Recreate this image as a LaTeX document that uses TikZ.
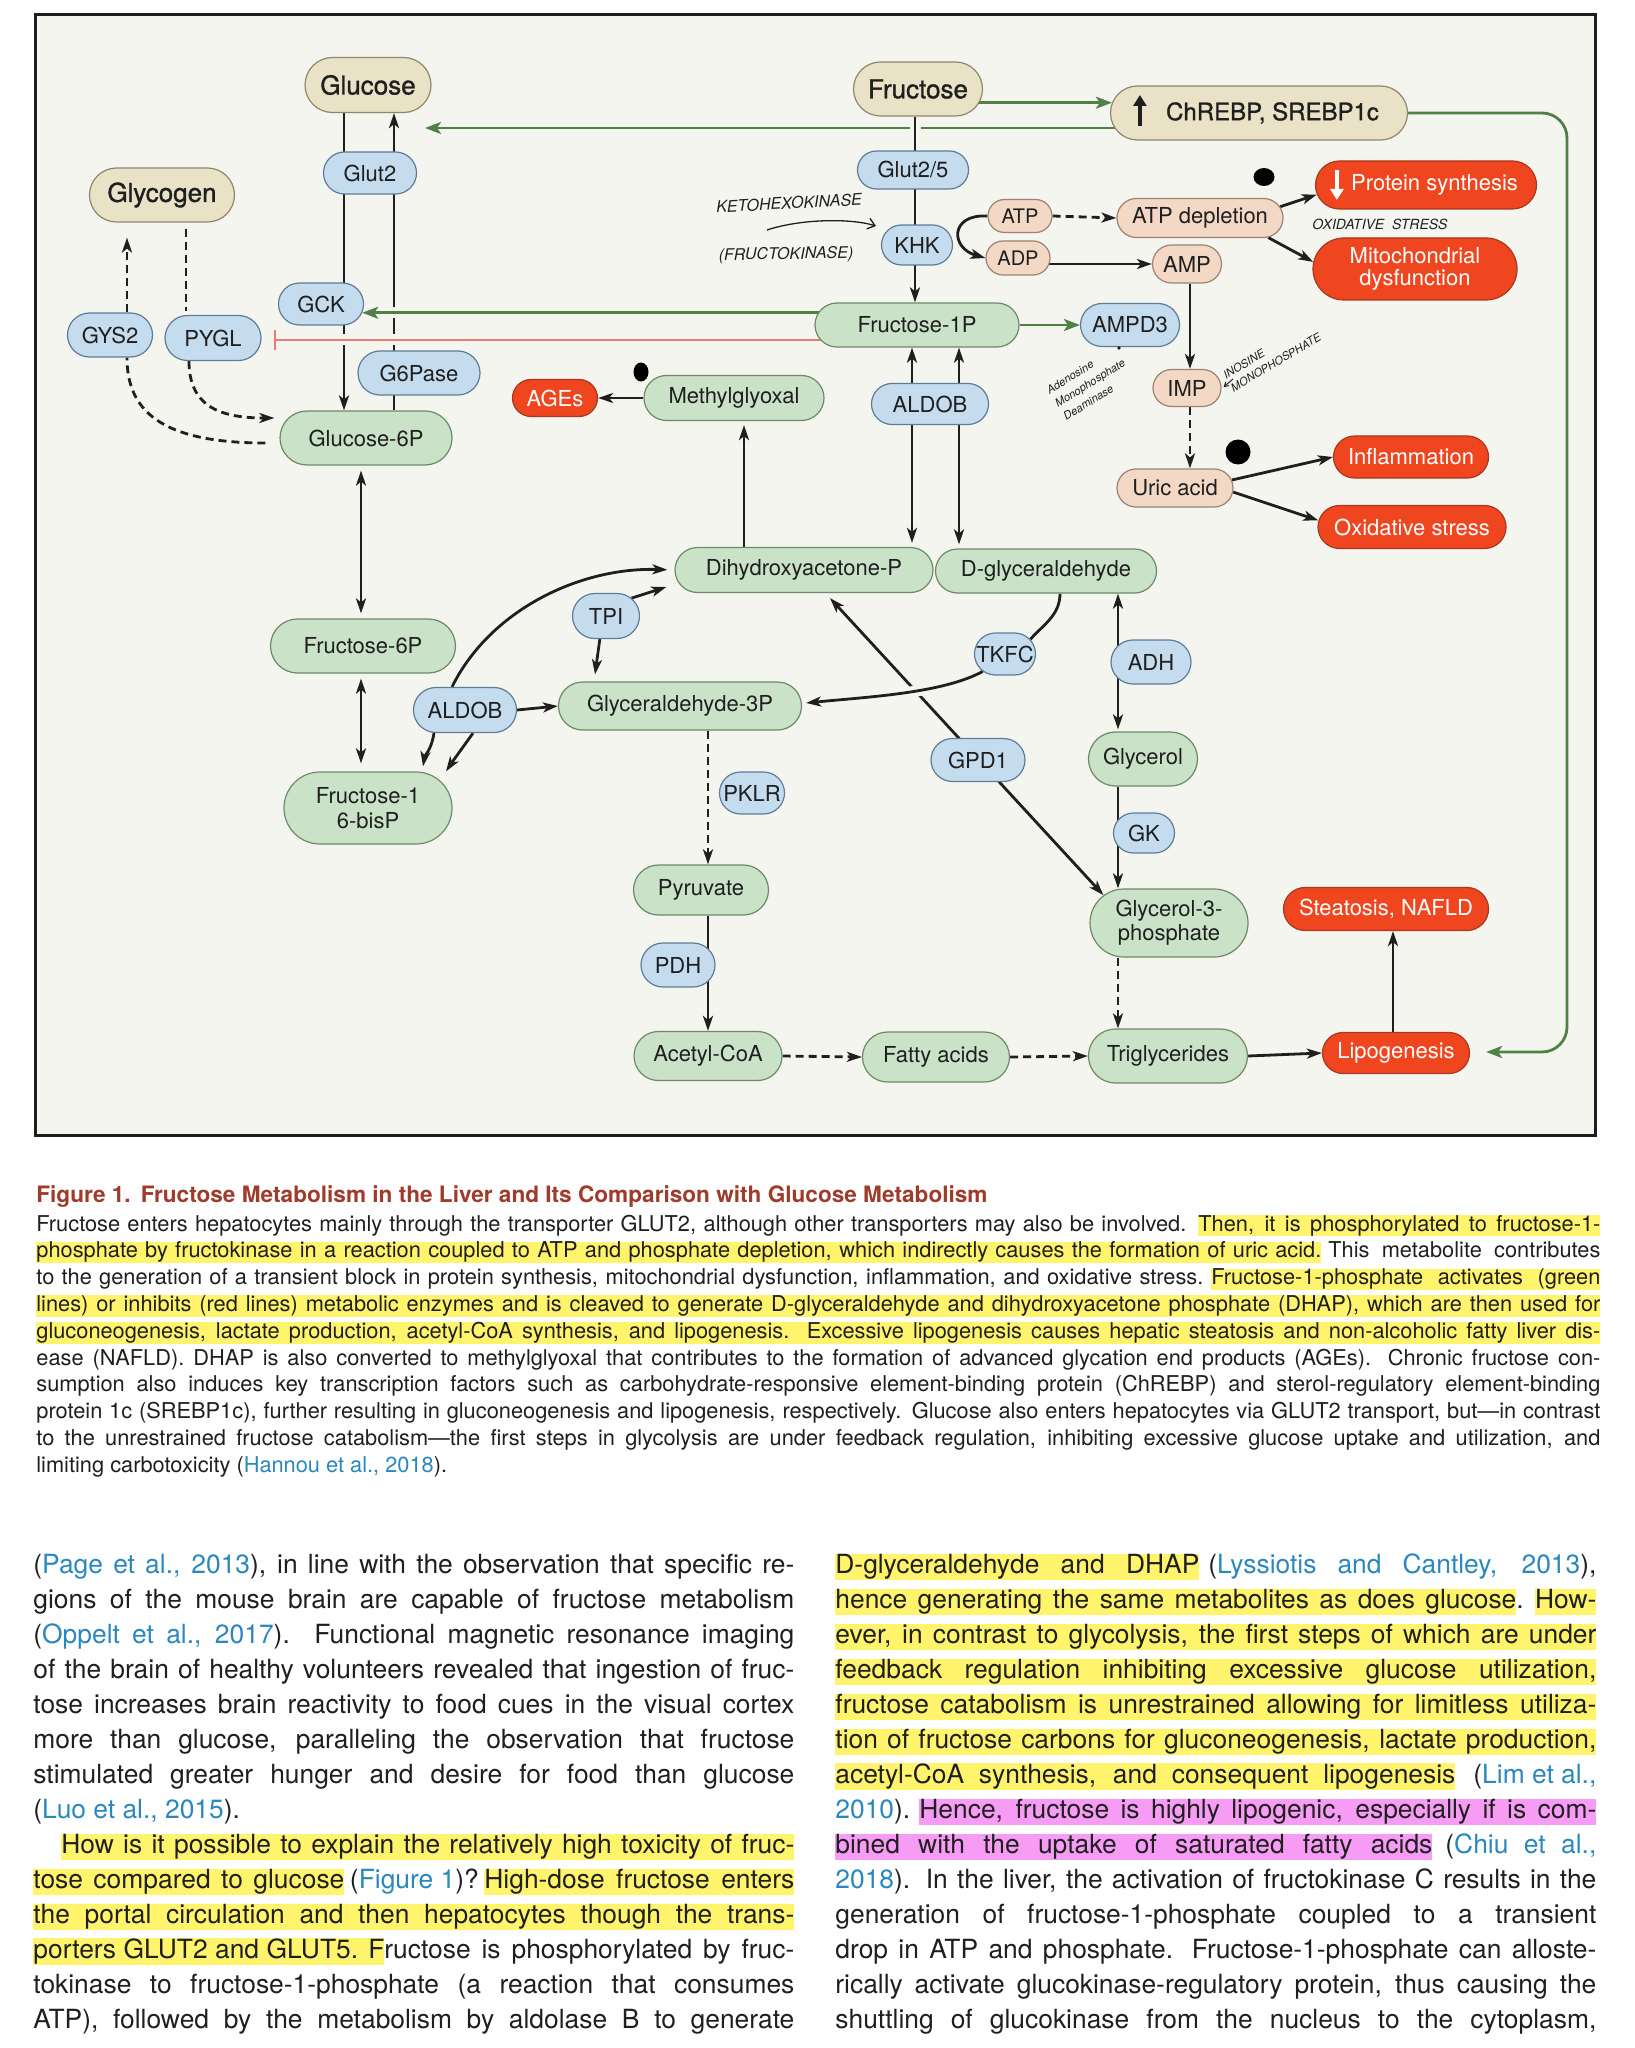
\documentclass[tikz,border=0pt]{standalone}
\usepackage{fontspec}
\setmainfont{TeX Gyre Heros}
\newfontfamily\medfont[FakeBold=1.2]{TeX Gyre Heros}
\usetikzlibrary{shapes.misc,arrows.meta,calc}
\pgfdeclarelayer{frm}
\pgfdeclarelayer{edg}
\pgfsetlayers{frm,edg,main}
\newlength\px
\setlength\px{0.5pt}
\definecolor{framebg}{HTML}{F5F5F0}
\definecolor{framedk}{HTML}{1E1E1E}
\definecolor{ink}{HTML}{1F1F1F}
\definecolor{tanf}{HTML}{E9E2C7}
\definecolor{tand}{HTML}{8E876A}
\definecolor{bluef}{HTML}{C5DCEF}
\definecolor{blued}{HTML}{5E7C98}
\definecolor{greenf}{HTML}{C9E2C8}
\definecolor{greend}{HTML}{6C8A68}
\definecolor{peachf}{HTML}{F3D8C5}
\definecolor{peachd}{HTML}{9C8270}
\definecolor{redf}{HTML}{F0461F}
\definecolor{redd}{HTML}{A8381E}
\definecolor{grn}{HTML}{4F8046}
\definecolor{inhred}{HTML}{EC7B70}
\definecolor{capred}{HTML}{9E3B2A}
\definecolor{citeblue}{HTML}{2A88BE}
\definecolor{hly}{HTML}{FFF46C}
\definecolor{hlm}{HTML}{F79CF5}
\newcommand\fsz[2]{\fontsize{#1}{#2}\selectfont}
\newcommand\hlstrut{\rule[-0.25em]{0pt}{0.97em}}
\newcommand\hly[1]{{\setlength\fboxsep{0pt}\colorbox{hly}{\hlstrut#1}}}
\newcommand\hlm[1]{{\setlength\fboxsep{0pt}\colorbox{hlm}{\hlstrut#1}}}
\newcommand\jl[2]{\makebox[#1\px][s]{#2}}
\newcommand\hlyw[2]{\hly{\jl{#1}{#2}}}
\newcommand\hlmw[2]{\hlm{\jl{#1}{#2}}}
\newcommand\cit[1]{\textcolor{citeblue}{#1}}
\begin{document}
\begin{tikzpicture}[x=0.5pt,y=-0.5pt,
  >={Stealth[length=7.5pt,width=5pt,inset=2pt]},
  nbase/.style={rounded rectangle, draw, line width=1.2\px, inner sep=0pt, text=ink, font=\fsz{11pt}{12pt}},
  tnode/.style={nbase, fill=tanf, draw=tand, font=\medfont\fsz{13pt}{15pt}},
  enode/.style={nbase, fill=bluef, draw=blued},
  mnode/.style={nbase, fill=greenf, draw=greend},
  pnode/.style={nbase, fill=peachf, draw=peachd},
  rnode/.style={nbase, fill=redf, draw=redd, text=white},
  sz/.style 2 args={minimum width=#1\px, minimum height=#2\px},
  ln/.style={line width=2.8\px, draw=ink},
  arr/.style={ln, ->},
  darr/.style={ln, <->},
  dsh/.style={dash pattern=on 8\px off 5\px},
  gln/.style={line width=2.8\px, draw=grn},
  garr/.style={gln, -{Stealth[length=8pt,width=6pt,inset=2pt]}},
  inh/.style={line width=2.8\px, draw=inhred, -{Bar[width=10pt]}},
  halo/.style={preaction={draw=framebg, line width=11\px, -, solid}},
  hand/.style={inner sep=0pt, text=ink, font=\itshape\fsz{8pt}{9pt}},
  txtl/.style={anchor=base west, inner sep=0pt, text=ink},
  capl/.style={txtl, font=\fsz{10.9pt}{13pt}},
  bodl/.style={txtl, font=\fsz{13.2pt}{16pt}}
]
\useasboundingbox (0,0) rectangle (1634,2048);
\begin{pgfonlayer}{frm}
\fill[white] (0,0) rectangle (1634,2048);
\draw[line width=3\px, draw=framedk, fill=framebg] (35,15) rectangle (1595,1135);
\end{pgfonlayer}

% ---------- tan nodes
\node[tnode,sz={126}{55}] (glucose) at (368,85) {Glucose};
\node[tnode,sz={129}{54}] (fructose) at (918,89) {Fructose};
\node[tnode,sz={145}{54}] (glycogen) at (162,195) {Glycogen};
\node[tnode,sz={297}{54},font=\medfont\fsz{12pt}{13pt}] (chrebp) at (1259,113) {\hspace*{27\px}ChREBP, SREBP1c};
% ---------- enzymes
\node[enode,sz={93}{42}] (glut2) at (370,173) {Glut2};
\node[enode,sz={85}{42}] (gck) at (321,304) {GCK};
\node[enode,sz={85}{44}] (gys2) at (110,335) {GYS2};
\node[enode,sz={96}{45}] (pygl) at (213,338) {PYGL};
\node[enode,sz={122}{44}] (g6pase) at (419,373) {G6Pase};
\node[enode,sz={111}{38}] (glut25) at (913,170) {Glut2/5};
\node[enode,sz={71}{40}] (khk) at (917,245) {KHK};
\node[enode,sz={99}{43}] (ampd3) at (1130,325) {AMPD3};
\node[enode,sz={117}{41}] (aldobA) at (930,404) {ALDOB};
\node[enode,sz={103}{45}] (aldobB) at (465,710) {ALDOB};
\node[enode,sz={67}{45}] (tpi) at (606,616) {TPI};
\node[enode,sz={61}{42}] (tkfc) at (1005,654) {TKFC};
\node[enode,sz={80}{44}] (adh) at (1151,662) {ADH};
\node[enode,sz={61}{40}] (gk) at (1144,833) {GK};
\node[enode,sz={94}{43}] (gpd1) at (978,760) {GPD1};
\node[enode,sz={65}{42}] (pklr) at (752,793) {PKLR};
\node[enode,sz={74}{44}] (pdh) at (678,965) {PDH};
% ---------- metabolites
\node[mnode,sz={172}{54}] (g6p) at (366,438) {Glucose-6P};
\node[mnode,sz={204}{44}] (fru1p) at (917,325) {Fructose-1P};
\node[mnode,sz={180}{45}] (methyl) at (734,398) {Methylglyoxal};
\node[mnode,sz={258}{45}] (dhap) at (804,570) {Dihydroxyacetone-P};
\node[mnode,sz={221}{44}] (dglyc) at (1046,571) {D-glyceraldehyde};
\node[mnode,sz={185}{54}] (f6p) at (363,646) {Fructose-6P};
\node[mnode,sz={168}{72},align=center,font=\fsz{11pt}{12.5pt}] (f16bp) at (368,808) {Fructose-1\\6-bisP};
\node[mnode,sz={243}{48}] (g3p) at (680,706) {Glyceraldehyde-3P};
\node[mnode,sz={109}{54}] (glycerol) at (1143,759) {Glycerol};
\node[mnode,sz={158}{68},align=center,font=\fsz{11pt}{12pt}] (gly3p) at (1169,923) {Glycerol-3-\\phosphate};
\node[mnode,sz={135}{50}] (pyruvate) at (701,890) {Pyruvate};
\node[mnode,sz={148}{49}] (acetyl) at (708,1056) {Acetyl-CoA};
\node[mnode,sz={147}{50}] (fatty) at (936,1057) {Fatty acids};
\node[mnode,sz={159}{54}] (trig) at (1168,1056) {Triglycerides};
% ---------- energy nodes
\node[pnode,sz={64}{33},font=\fsz{10pt}{11pt}] (atp) at (1020,216) {ATP};
\node[pnode,sz={64}{34},font=\fsz{10pt}{11pt}] (adp) at (1018,258) {ADP};
\node[pnode,sz={166}{39}] (atpdep) at (1200,218) {ATP depletion};
\node[pnode,sz={69}{38}] (amp) at (1187,264) {AMP};
\node[pnode,sz={68}{37}] (imp) at (1187,388) {IMP};
\node[pnode,sz={116}{38}] (uric) at (1175,488) {Uric acid};
% ---------- outcomes
\node[rnode,sz={85}{37}] (ages) at (555,398) {AGEs};
\node[rnode,sz={221}{48}] (protein) at (1426,185) {\hspace*{17\px}Protein synthesis};
\node[rnode,sz={204}{62},align=center,font=\fsz{11pt}{10.8pt}] (mito) at (1415,269) {Mitochondrial\\dysfunction};
\node[rnode,sz={155}{42}] (inflam) at (1411,457) {Inflammation};
\node[rnode,sz={188}{43}] (oxstress) at (1412,527) {Oxidative stress};
\node[rnode,sz={205}{43}] (steat) at (1386,909) {Steatosis, NAFLD};
\node[rnode,sz={147}{41}] (lipo) at (1396,1053) {Lipogenesis};

% ---------- helper coordinates
\coordinate (cL) at (344,0);
\coordinate (cR) at (394,0);
\coordinate (cF) at (915,0);
\coordinate (cA1) at (912,0);
\coordinate (cA2) at (959,0);
\coordinate (cM) at (744,0);
\coordinate (cG) at (361,0);
\coordinate (cD) at (1118,0);
\coordinate (cS) at (1393,0);
\coordinate (cP) at (708,0);
\coordinate (cY) at (127,0);
\coordinate (cPy) at (186,0);
\coordinate (cU) at (1190,0);
\coordinate (glutip) at (425,128);
\coordinate (gcorner) at (1567,1052);
\coordinate (gckin) at (gck.-12);
\coordinate (inhpt) at ($(pygl.east)+(12,2)$);
\coordinate (chin) at (chrebp.176);

\begin{pgfonlayer}{edg}
% lines that get crossed
\draw[garr] (glutip -| chrebp.center) -- (glutip);
\draw[arr] (glucose.south -| cL) -- (g6p.north -| cL);
\draw[arr] (g6p.north -| cR) -- (glucose.south -| cR);
\draw[darr] ($(dhap.south)+(26,5)$) -- (gly3p.157);
% crossing lines with gaps
\draw[arr, halo] (fructose.south -| cF) -- (fru1p.north -| cF);
\draw[garr, halo] (fru1p.center |- gckin) -- (gckin);
\draw[inh, halo] (fru1p.center |- inhpt) -- (inhpt);
\draw[ln] ($(dglyc.south)+(14,0)$) .. controls +(0,22) and +(12,-14) .. (tkfc.30);
\draw[arr, halo] (tkfc.218) .. controls +(-40,22) and +(60,-6) .. ($(g3p.east)+(4,-3)$);
% green regulation
\draw[garr] (fructose.center |- chin) -- (chin);
\draw[garr, rounded corners=25\px] (chrebp.east) -| (gcorner) -- ($(lipo.east)+(16,-1)$);
\draw[garr] (fru1p.east) -- (ampd3.west);
% energy
\draw[arr] (atp.west) .. controls +(-38,-2) and +(-35,-10) .. (adp.west);
\draw[arr, dsh] (atp.east) -- (atpdep.west);
\draw[arr] (adp.center |- amp.west) -- (amp.west);
\draw[arr] (atpdep.8) -- (protein.185);
\draw[arr] (atpdep.-16) -- (mito.176);
\draw[arr] (amp.south -| cU) -- (imp.north -| cU);
\draw[arr, dsh] (imp.south -| cU) -- (uric.north -| cU);
\draw[arr] (uric.8) -- (inflam.west);
\draw[arr] (uric.-4) -- (oxstress.176);
% fructose-1P cleavage
\draw[darr, shorten >=4\px] (fru1p.south -| cA1) -- (dhap.north -| cA1);
\draw[darr, shorten >=4\px] (fru1p.south -| cA2) -- (dglyc.north -| cA2);
\draw[arr, shorten >=4\px] (dhap.north -| cM) -- (methyl.south -| cM);
\draw[arr] (methyl.west) -- (ages.east);
% glycolysis
\draw[darr, shorten <=5\px, shorten >=5\px] (g6p.south -| cG) -- (f6p.north -| cG);
\draw[darr, shorten <=5\px, shorten >=8\px] (f6p.south -| cG) -- (f16bp.north -| cG);
\draw[arr] (aldobB.east) -- (g3p.west);
\draw[arr, shorten >=7\px] ($(aldobB.north)+(-13,0)$) .. controls (490,610) and (580,567) .. (dhap.west);
\draw[arr] ($(aldobB.south)+(-31,0)$) .. controls +(-3,18) and +(2,-12) .. ($(f16bp.north)+(55,-5)$);
\draw[arr] ($(aldobB.south)+(8,0)$) .. controls +(-10,14) and +(8,-12) .. ($(f16bp.north)+(78,0)$);
\draw[arr] (tpi.35) -- ($(dhap.west)+(-8,17)$);
\draw[arr] (tpi.255) -- ($(g3p.north)+(-85,-7)$);
% glycerol branch
\draw[darr, shorten >=2\px] (dglyc.south -| cD) -- (glycerol.north -| cD);
\draw[arr] (glycerol.south -| cD) -- (gly3p.north -| cD);
\draw[arr, dsh] (gly3p.south -| cD) -- (trig.north -| cD);
\draw[arr] (trig.east) -- (lipo.west);
\draw[arr] (lipo.north -| cS) -- (steat.south -| cS);
\draw[arr, dsh] (acetyl.east) -- (fatty.west);
\draw[arr, dsh] (fatty.east) -- (trig.west);
\draw[arr, dsh] (g3p.south -| cP) -- (pyruvate.north -| cP);
\draw[arr] (pyruvate.south -| cP) -- (acetyl.north -| cP);
% glycogen
\draw[arr, dsh, shorten >=15\px] (gys2.north -| cY) -- (glycogen.south -| cY);
\draw[ln, dsh, shorten <=6\px, shorten >=4\px] (glycogen.south -| cPy) -- (pygl.north -| cPy);
\draw[arr, dsh] ($(pygl.south)+(-24,0)$) .. controls +(0,45) and +(-55,0) .. ($(g6p.west)+(-5,-20)$);
\draw[ln, dsh] ($(g6p.west)+(-14,5)$) .. controls (160,443) and (127,410) .. (gys2.south -| cY);
\end{pgfonlayer}

% ---------- arrows inside nodes
\draw[line width=3.5\px, draw=ink, -{Triangle[length=5.5pt,width=6.5pt]}] ($(chrebp.west)+(30,13)$) -- ++(0,-31);
\draw[line width=3.5\px, draw=white, -{Triangle[length=5.5pt,width=6.5pt]}] ($(protein.west)+(22,-15)$) -- ++(0,30);

% ---------- blobs
\fill[black] (641,372) ellipse [x radius=7.5\px, y radius=9.5\px];
\fill[black] (1264,177) ellipse [x radius=10.5\px, y radius=9\px];
\fill[black] (1238,452) ellipse [x radius=12.5\px, y radius=12.5\px];
\fill[ink] (1119,348) circle [radius=1.8\px];

% ---------- handwriting
\node[hand, rotate=3] (kh1) at (789,203) {KETOHEXOKINASE};
\node[hand, rotate=1] (kh2) at (786,255) {(FRUCTOKINASE)};
\coordinate (ka1) at (767,230);
\coordinate (ka2) at (876,226);
\draw[line width=1.3\px, draw=ink, -{Straight Barb[length=3.5pt,width=5.5pt]}] (ka1) .. controls (800,219) and (850,218) .. (ka2);
\node[hand, font=\itshape\fsz{7pt}{8pt}] (oxh) at (1380,224) {OXIDATIVE\ \ STRESS};
\node[hand, font=\itshape\fsz{5.6pt}{7.4pt}, rotate=31, align=left] (ino) at (1272,356) {INOSINE\\MONOPHOSPHATE};
\coordinate (inoA) at (1233,379);
\draw[line width=1\px, draw=ink, -{Straight Barb[length=2pt,width=2.5pt]}] (inoA) -- ($(imp.east)+(2,-1)$);
\node[hand, font=\itshape\fsz{5.6pt}{7.8pt}, rotate=32, align=left] (adn) at (1090,383) {Adenosine\\Monophosphate\\Deaminase};

% ---------- caption
\node[txtl, font=\bfseries\fsz{11.3pt}{13pt}, text=capred] (ctitle) at (36,1202) {Figure 1.\hspace{0.45em}Fructose Metabolism in the Liver and Its Comparison with Glucose Metabolism};
\node[capl] (c1) at (36,1231) {\jl{1564}{\jl{1150}{Fructose enters hepatocytes mainly through the transporter GLUT2, although other transporters may also be involved.}\hfill\hlyw{402}{Then, it is phosphorylated to fructose-1-}}};
\node[capl] (c2) at (36,1257.8) {\jl{1564}{\hlyw{1285}{phosphate by fructokinase in a reaction coupled to ATP and phosphate depletion, which indirectly causes the formation of uric acid.}\hfill\jl{272}{This metabolite contributes}}};
\node[capl] (c3) at (36,1284.6) {\jl{1564}{\jl{1167}{to the generation of a transient block in protein synthesis, mitochondrial dysfunction, inflammation, and oxidative stress.}\hfill\hlyw{389}{Fructose-1-phosphate activates (green}}};
\node[capl] (c4) at (36,1311.4) {\hlyw{1564}{lines) or inhibits (red lines) metabolic enzymes and is cleaved to generate D-glyceraldehyde and dihydroxyacetone phosphate (DHAP), which are then used for}};
\node[capl] (c5) at (36,1338.2) {\hlyw{1564}{gluconeogenesis, lactate production, acetyl-CoA synthesis, and lipogenesis. Excessive lipogenesis causes hepatic steatosis and non-alcoholic fatty liver dis-}};
\node[capl] (c6) at (36,1365) {\jl{1564}{ease (NAFLD). DHAP is also converted to methylglyoxal that contributes to the formation of advanced glycation end products (AGEs). Chronic fructose con-}};
\node[capl] (c7) at (36,1391.8) {\jl{1564}{sumption also induces key transcription factors such as carbohydrate-responsive element-binding protein (ChREBP) and sterol-regulatory element-binding}};
\node[capl] (c8) at (36,1418.6) {\jl{1564}{protein 1c (SREBP1c), further resulting in gluconeogenesis and lipogenesis, respectively. Glucose also enters hepatocytes via GLUT2 transport, but—in contrast}};
\node[capl] (c9) at (36,1445.4) {\jl{1564}{to the unrestrained fructose catabolism—the first steps in glycolysis are under feedback regulation, inhibiting excessive glucose uptake and utilization, and}};
\node[capl] (c10) at (36,1472.2) {limiting carbotoxicity (\cit{Hannou et al., 2018}).};

% ---------- body, left column
\node[bodl] (l1) at (33,1573) {\jl{761}{(\cit{Page et al., 2013}), in line with the observation that specific re-}};
\node[bodl] (l2) at (33,1608) {\jl{761}{gions of the mouse brain are capable of fructose metabolism}};
\node[bodl] (l3) at (33,1643) {\jl{761}{(\cit{Oppelt et al., 2017}). Functional magnetic resonance imaging}};
\node[bodl] (l4) at (33,1678) {\jl{761}{of the brain of healthy volunteers revealed that ingestion of fruc-}};
\node[bodl] (l5) at (33,1713) {\jl{761}{tose increases brain reactivity to food cues in the visual cortex}};
\node[bodl] (l6) at (33,1748) {\jl{761}{more than glucose, paralleling the observation that fructose}};
\node[bodl] (l7) at (33,1783) {\jl{761}{stimulated greater hunger and desire for food than glucose}};
\node[bodl] (l8) at (33,1818) {(\cit{Luo et al., 2015}).};
\node[bodl] (l9) at (33,1853) {\hspace*{28\px}\hlyw{733}{How is it possible to explain the relatively high toxicity of fruc-}};
\node[bodl] (l10) at (33,1888) {\jl{761}{\hlyw{311}{tose compared to glucose}\hfill(\cit{Figure 1})?\hfill\hlyw{310}{High-dose fructose enters}}};
\node[bodl] (l11) at (33,1923) {\hlyw{761}{the portal circulation and then hepatocytes though the trans-}};
\node[bodl] (l12) at (33,1958) {\jl{761}{\hlyw{351}{porters GLUT2 and GLUT5. F}\jl{410}{ructose is phosphorylated by fruc-}}};
\node[bodl] (l13) at (33,1993) {\jl{761}{tokinase to fructose-1-phosphate (a reaction that consumes}};
\node[bodl] (l14) at (33,2028) {\jl{761}{ATP), followed by the metabolism by aldolase B to generate}};

% ---------- body, right column
\node[bodl] (r1) at (835,1573) {\jl{761}{\hlyw{364}{D-glyceraldehyde and DHAP}\hfill\jl{388}{(\cit{Lyssiotis and Cantley, 2013}),}}};
\node[bodl] (r2) at (835,1608) {\jl{761}{\hlyw{681}{hence generating the same metabolites as does glucose}.\hfill\hly{How-}}};
\node[bodl] (r3) at (835,1643) {\hlyw{761}{ever, in contrast to glycolysis, the first steps of which are under}};
\node[bodl] (r4) at (835,1678) {\hlyw{761}{feedback regulation inhibiting excessive glucose utilization,}};
\node[bodl] (r5) at (835,1713) {\hlyw{761}{fructose catabolism is unrestrained allowing for limitless utiliza-}};
\node[bodl] (r6) at (835,1748) {\hlyw{761}{tion of fructose carbons for gluconeogenesis, lactate production,}};
\node[bodl] (r7) at (835,1783) {\jl{761}{\hlyw{620}{acetyl-CoA synthesis, and consequent lipogenesis}\hfill(\cit{Lim et al.,}}};
\node[bodl] (r8) at (835,1818) {\jl{761}{\cit{2010}).\hfill\hlmw{677}{Hence, fructose is highly lipogenic, especially if is com-}}};
\node[bodl] (r9) at (835,1853) {\jl{761}{\hlmw{597}{bined with the uptake of saturated fatty acids}\hfill\jl{151}{(\cit{Chiu et al.,}}}};
\node[bodl] (r10) at (835,1888) {\jl{761}{\cit{2018}). In the liver, the activation of fructokinase C results in the}};
\node[bodl] (r11) at (835,1923) {\jl{761}{generation of fructose-1-phosphate coupled to a transient}};
\node[bodl] (r12) at (835,1958) {\jl{761}{drop in ATP and phosphate. Fructose-1-phosphate can alloste-}};
\node[bodl] (r13) at (835,1993) {\jl{761}{rically activate glucokinase-regulatory protein, thus causing the}};
\node[bodl] (r14) at (835,2028) {\jl{761}{shuttling of glucokinase from the nucleus to the cytoplasm,}};
\end{tikzpicture}
\end{document}
